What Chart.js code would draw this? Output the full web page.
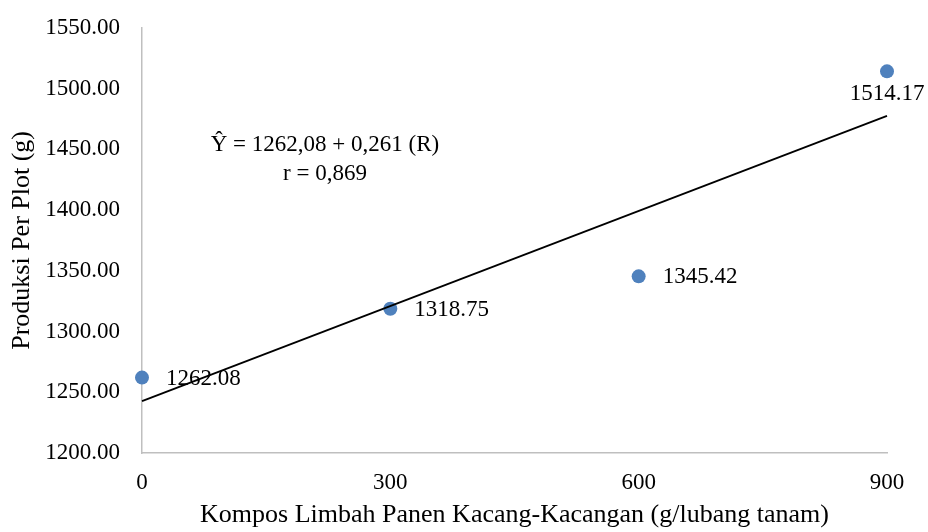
<!DOCTYPE html>
<html>
<head>
<meta charset="utf-8">
<script src="https://cdn.jsdelivr.net/npm/chart.js@4/dist/chart.umd.min.js"></script>
<style>
  html, body { margin: 0; padding: 0; background: #ffffff; }
  #wrap { width: 928px; height: 532px; position: relative; }
</style>
</head>
<body>
<div id="wrap"><canvas id="chart" width="928" height="532"></canvas></div>
<script>
// Compost dose (g / planting hole) and yield per plot (g)
const doses = [0, 300, 600, 900];
const yields = [1262.08, 1318.75, 1345.42, 1514.17];

// Axis ticks
const xTicks = [0, 300, 600, 900];
const yTicks = [1200, 1250, 1300, 1350, 1400, 1450, 1500, 1550];

// Regression annotation text
const equationLines = ['\u0176 = 1262,08 + 0,261 (R)', 'r = 0,869'];

// Least-squares trend line through the observations
function linearFit(xs, ys) {
  const n = xs.length;
  const mx = xs.reduce((a, b) => a + b, 0) / n;
  const my = ys.reduce((a, b) => a + b, 0) / n;
  let sxy = 0, sxx = 0;
  for (let i = 0; i < n; i++) {
    sxy += (xs[i] - mx) * (ys[i] - my);
    sxx += (xs[i] - mx) * (xs[i] - mx);
  }
  const slope = sxy / sxx;
  return { slope, intercept: my - slope * mx };
}
const fit = linearFit(doses, yields);
const xFirst = doses[0], xLast = doses[doses.length - 1];
const trendPoints = [
  { x: xFirst, y: fit.intercept + fit.slope * xFirst },
  { x: xLast, y: fit.intercept + fit.slope * xLast }
];

const FONT = "'Liberation Serif', 'Times New Roman', serif";

// Value labels beside each observation (last one sits underneath)
const valueLabels = {
  id: 'valueLabels',
  beforeDatasetsDraw(chart) {
    const meta = chart.getDatasetMeta(1);
    const ctx = chart.ctx;
    ctx.save();
    ctx.font = '23px ' + FONT;
    ctx.fillStyle = '#000000';
    meta.data.forEach((pt, i) => {
      const txt = yields[i].toFixed(2);
      if (i === yields.length - 1) {
        ctx.textAlign = 'center';
        ctx.textBaseline = 'middle';
        ctx.fillText(txt, pt.x, pt.y + 23);
      } else {
        ctx.textAlign = 'left';
        ctx.textBaseline = 'middle';
        ctx.fillText(txt, pt.x + 24, pt.y + 1);
      }
    });
    ctx.restore();
  }
};

// Regression equation placed in data space
const equationNote = {
  id: 'equationNote',
  afterDraw(chart) {
    const { x, y } = chart.scales;
    const cx = x.getPixelForValue(221);
    const cy = y.getPixelForValue(1453.5);
    const ctx = chart.ctx;
    ctx.save();
    ctx.font = '23px ' + FONT;
    ctx.fillStyle = '#000000';
    ctx.textAlign = 'center';
    ctx.textBaseline = 'middle';
    equationLines.forEach((line, i) => ctx.fillText(line, cx, cy + i * 29));
    ctx.restore();
  }
};

new Chart(document.getElementById('chart'), {
  type: 'scatter',
  data: {
    datasets: [
      {
        type: 'line',
        label: 'Trend',
        data: trendPoints,
        borderColor: '#000000',
        borderWidth: 1.8,
        pointRadius: 0,
        fill: false,
        tension: 0,
        clip: false
      },
      {
        label: 'Produksi',
        data: doses.map((d, i) => ({ x: d, y: yields[i] })),
        backgroundColor: '#4F81BD',
        borderColor: '#4F81BD',
        borderWidth: 0,
        pointRadius: 7,
        pointHoverRadius: 7,
        clip: false
      }
    ]
  },
  options: {
    responsive: false,
    animation: false,
    events: [],
    layout: { padding: { top: 15, right: 41, left: 0, bottom: 0 } },
    plugins: {
      legend: { display: false },
      tooltip: { enabled: false }
    },
    scales: {
      x: {
        type: 'linear',
        min: xTicks[0],
        max: xTicks[xTicks.length - 1],
        afterBuildTicks: s => { s.ticks = xTicks.map(v => ({ value: v })); },
        afterFit: s => { s.height = 79; },
        grid: { display: false },
        border: { display: true, color: '#BFBFBF', width: 1.5 },
        ticks: {
          color: '#000000',
          font: { family: FONT, size: 23 },
          padding: 8,
          maxRotation: 0,
          callback: v => String(v)
        },
        title: {
          display: true,
          text: 'Kompos Limbah Panen Kacang-Kacangan (g/lubang tanam)',
          color: '#000000',
          font: { family: FONT, size: 26 },
          padding: { top: 0, bottom: 1 }
        }
      },
      y: {
        min: yTicks[0],
        max: yTicks[yTicks.length - 1],
        afterBuildTicks: s => { s.ticks = yTicks.map(v => ({ value: v })); },
        afterFit: s => { s.width = 142; },
        grid: { display: false },
        border: { display: true, color: '#BFBFBF', width: 1.5 },
        ticks: {
          color: '#000000',
          font: { family: FONT, size: 23 },
          padding: 14,
          callback: v => Number(v).toFixed(2)
        },
        title: {
          display: true,
          text: 'Produksi Per Plot (g)',
          color: '#000000',
          font: { family: FONT, size: 26 },
          padding: { top: 7, bottom: 0 }
        }
      }
    }
  },
  plugins: [valueLabels, equationNote]
});
</script>
</body>
</html>
